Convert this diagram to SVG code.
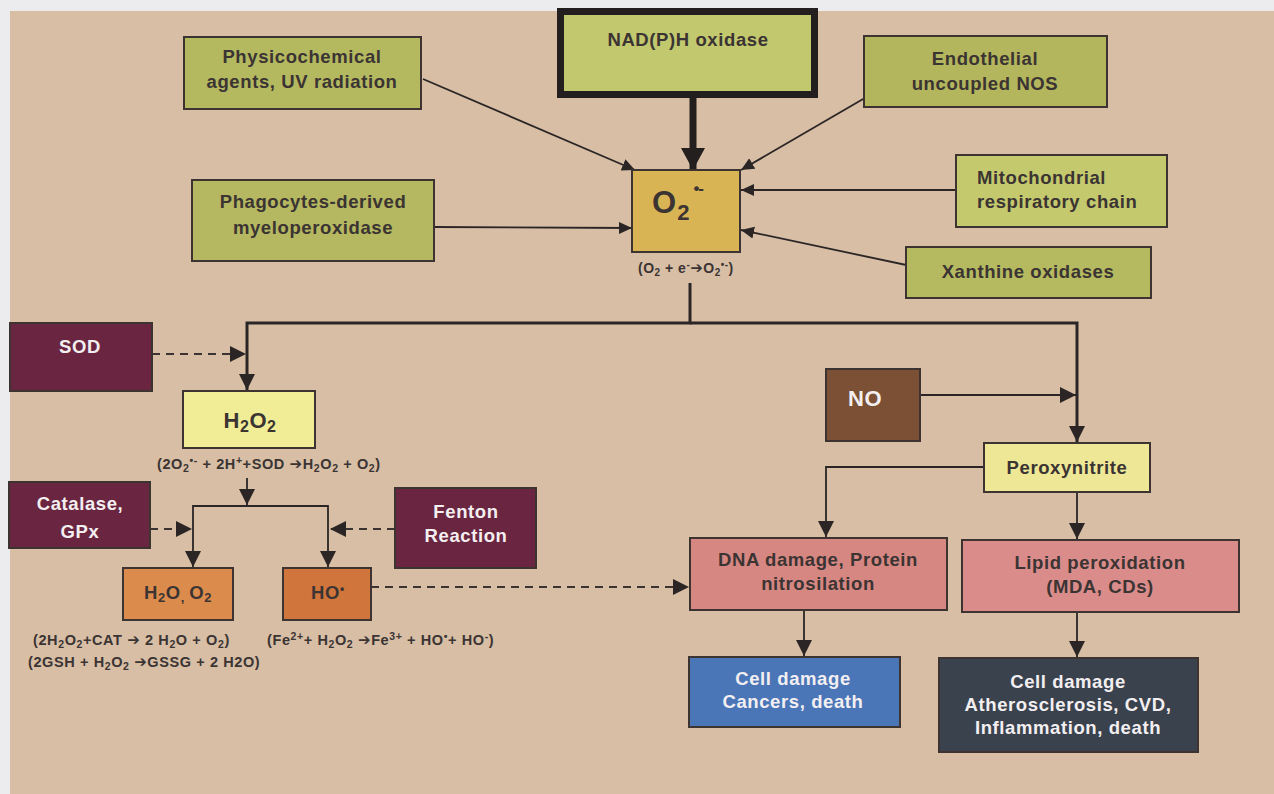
<svg xmlns="http://www.w3.org/2000/svg" width="1274" height="794" viewBox="0 0 1274 794">
<defs>
<style>
.t{font-family:"Liberation Sans",Arial,Helvetica,sans-serif;font-weight:bold;text-anchor:middle;letter-spacing:0.6px}
.d{fill:#3b3433;font-size:18.5px}
.w{fill:#f3eff1;font-size:18.5px}
.f{font-family:"Liberation Sans",Arial,Helvetica,sans-serif;font-weight:bold;fill:#3b3433;font-size:14.5px;letter-spacing:0.6px}
.ar{font-family:"DejaVu Sans",sans-serif;font-size:15px}
.box{stroke:#3d3432;stroke-width:2}
.c{fill:none;stroke:#2b2625;stroke-width:1.8}
.ck{fill:none;stroke:#2b2625;stroke-width:3}
.dash{fill:none;stroke:#3b3433;stroke-width:2;stroke-dasharray:8 6}
</style>
<marker id="a" markerUnits="userSpaceOnUse" markerWidth="14" markerHeight="14" refX="13" refY="7" orient="auto"><path d="M0,1 L13,7 L0,13 z" fill="#2b2625"/></marker>
<marker id="ak" markerUnits="userSpaceOnUse" markerWidth="18" markerHeight="18" refX="16" refY="9" orient="auto"><path d="M0,1 L16,9 L0,17 z" fill="#2b2625"/></marker>
<marker id="an" markerUnits="userSpaceOnUse" markerWidth="24" markerHeight="26" refX="22" refY="13" orient="auto"><path d="M0,1 L22,13 L0,25 z" fill="#231f1f"/></marker>
</defs>
<rect x="0" y="0" width="1274" height="794" fill="#ecebed"/>
<rect x="10" y="11" width="1264" height="783" fill="#d7bea5"/>

<g id="connectors">
<line class="c" x1="423" y1="79" x2="635" y2="170" marker-end="url(#a)"/>
<line x1="693" y1="98" x2="693" y2="170" stroke="#231f1f" stroke-width="7" marker-end="url(#an)"/>
<line class="c" x1="870" y1="95" x2="741" y2="170" marker-end="url(#a)"/>
<line class="c" x1="956" y1="190" x2="741" y2="190" marker-end="url(#a)"/>
<line class="c" x1="911" y1="266" x2="741" y2="230" marker-end="url(#a)"/>
<line class="c" x1="434" y1="227" x2="632" y2="228" marker-end="url(#a)"/>
<path class="ck" d="M690,283 V323 H247 V390" marker-end="url(#ak)"/>
<path class="ck" d="M690,323 H1077 V442" marker-end="url(#ak)"/>
<line class="dash" x1="152" y1="354" x2="246" y2="354" marker-end="url(#ak)"/>
<line class="c" x1="247" y1="478" x2="247" y2="505" marker-end="url(#ak)"/>
<path class="c" d="M247,506 H193 V567" marker-end="url(#ak)"/>
<path class="c" d="M247,506 H328 V567" marker-end="url(#ak)"/>
<line class="dash" x1="150" y1="529" x2="192" y2="529" marker-end="url(#ak)"/>
<line class="dash" x1="395" y1="529" x2="330" y2="529" marker-end="url(#ak)"/>
<line class="dash" x1="371" y1="587" x2="689" y2="587" marker-end="url(#ak)"/>
<line class="c" x1="920" y1="395" x2="1076" y2="395" marker-end="url(#ak)"/>
<path class="c" d="M984,467 H826 V537" marker-end="url(#ak)"/>
<line class="c" x1="1077" y1="492" x2="1077" y2="539" marker-end="url(#ak)"/>
<line class="c" x1="804" y1="610" x2="804" y2="656" marker-end="url(#ak)"/>
<line class="c" x1="1077" y1="612" x2="1077" y2="657" marker-end="url(#ak)"/>
</g>

<g id="physicochemical">
<rect class="box" x="184" y="37" width="237" height="72" fill="#b4b960"/>
<text class="t d" x="302" y="63">Physicochemical</text>
<text class="t d" x="302" y="88">agents, UV radiation</text>
</g>
<g id="nadph">
<rect x="560.5" y="11.5" width="254" height="83" fill="#c1c86e" stroke="#231f1f" stroke-width="7"/>
<text class="t d" x="688" y="46">NAD(P)H oxidase</text>
</g>
<g id="endothelial">
<rect class="box" x="864" y="36" width="243" height="71" fill="#b3b65c"/>
<text class="t d" x="985" y="65">Endothelial</text>
<text class="t d" x="985" y="90">uncoupled NOS</text>
</g>
<g id="mitochondrial">
<rect class="box" x="956" y="155" width="211" height="72" fill="#c4c96e"/>
<text class="t d" x="977" y="184" style="text-anchor:start">Mitochondrial</text>
<text class="t d" x="977" y="208" style="text-anchor:start">respiratory chain</text>
</g>
<g id="xanthine">
<rect class="box" x="906" y="247" width="245" height="51" fill="#b5ba60"/>
<text class="t d" x="1028" y="278">Xanthine oxidases</text>
</g>
<g id="phagocytes">
<rect class="box" x="192" y="180" width="242" height="81" fill="#b5b860"/>
<text class="t d" x="313" y="208">Phagocytes-derived</text>
<text class="t d" x="313" y="234">myeloperoxidase</text>
</g>
<g id="superoxide">
<rect class="box" x="632" y="170" width="108" height="82" fill="#d9b454"/>
<text class="t d" x="652" y="213" style="text-anchor:start;font-size:31px;letter-spacing:1px">O<tspan font-size="22" baseline-shift="-7">2</tspan><tspan font-size="17" baseline-shift="19" letter-spacing="-1" dx="3">•-</tspan></text>
<text class="f" x="638" y="273" style="font-size:14px;letter-spacing:0.5px">(O<tspan font-size="10" baseline-shift="-3">2</tspan> + e<tspan font-size="10" baseline-shift="5">-</tspan><tspan class="ar" font-size="14">➔</tspan>O<tspan font-size="10" baseline-shift="-3">2</tspan><tspan font-size="10" baseline-shift="5">•-</tspan>)</text>
</g>
<g id="sod">
<rect class="box" x="10" y="323" width="142" height="68" fill="#6a2640"/>
<text class="t w" x="80" y="353">SOD</text>
</g>
<g id="h2o2">
<rect class="box" x="183" y="391" width="132" height="57" fill="#f0ed96"/>
<text class="t d" x="250" y="428" style="font-size:22px">H<tspan font-size="16" baseline-shift="-4">2</tspan>O<tspan font-size="16" baseline-shift="-4">2</tspan></text>
<text class="f" x="157" y="469">(2O<tspan font-size="10.5" baseline-shift="-3">2</tspan><tspan font-size="10.5" baseline-shift="5">•-</tspan> + 2H<tspan font-size="10.5" baseline-shift="5">+</tspan>+SOD <tspan class="ar">➔</tspan>H<tspan font-size="10.5" baseline-shift="-3">2</tspan>O<tspan font-size="10.5" baseline-shift="-3">2</tspan> + O<tspan font-size="10.5" baseline-shift="-3">2</tspan>)</text>
</g>
<g id="catalase">
<rect class="box" x="9" y="482" width="141" height="66" fill="#6a2640"/>
<text class="t w" x="80" y="510">Catalase,</text>
<text class="t w" x="80" y="538">GPx</text>
</g>
<g id="fenton">
<rect class="box" x="395" y="488" width="141" height="80" fill="#6a2640"/>
<text class="t w" x="466" y="518">Fenton</text>
<text class="t w" x="466" y="542">Reaction</text>
</g>
<g id="h2o-o2">
<rect class="box" x="123" y="568" width="110" height="52" fill="#db8c4c"/>
<text class="t d" x="178" y="599">H<tspan font-size="13" baseline-shift="-3">2</tspan>O<tspan font-size="13" baseline-shift="-3">, </tspan>O<tspan font-size="13" baseline-shift="-3">2</tspan></text>
<text class="f" x="33" y="645">(2H<tspan font-size="10.5" baseline-shift="-3">2</tspan>O<tspan font-size="10.5" baseline-shift="-3">2</tspan>+CAT <tspan class="ar">➔</tspan> 2 H<tspan font-size="10.5" baseline-shift="-3">2</tspan>O + O<tspan font-size="10.5" baseline-shift="-3">2</tspan>)</text>
<text class="f" x="28" y="667">(2GSH + H<tspan font-size="10.5" baseline-shift="-3">2</tspan>O<tspan font-size="10.5" baseline-shift="-3">2</tspan> <tspan class="ar">➔</tspan>GSSG + 2 H2O)</text>
</g>
<g id="hydroxyl">
<rect class="box" x="283" y="568" width="88" height="52" fill="#d0763c"/>
<text class="t d" x="328" y="599">HO<tspan font-size="12" baseline-shift="6">•</tspan></text>
<text class="f" x="267" y="645">(Fe<tspan font-size="10.5" baseline-shift="5">2+</tspan>+ H<tspan font-size="10.5" baseline-shift="-3">2</tspan>O<tspan font-size="10.5" baseline-shift="-3">2</tspan> <tspan class="ar">➔</tspan>Fe<tspan font-size="10.5" baseline-shift="5">3+</tspan> + HO<tspan font-size="10.5" baseline-shift="5">•</tspan>+ HO<tspan font-size="10.5" baseline-shift="5">-</tspan>)</text>
</g>
<g id="no">
<rect class="box" x="826" y="369" width="94" height="72" fill="#7b5034"/>
<text class="t w" x="865" y="406" style="font-size:22px">NO</text>
</g>
<g id="peroxynitrite">
<rect class="box" x="984" y="443" width="166" height="49" fill="#eee896"/>
<text class="t d" x="1067" y="474">Peroxynitrite</text>
</g>
<g id="dna">
<rect class="box" x="690" y="538" width="257" height="72" fill="#d68782"/>
<text class="t d" x="818" y="566">DNA damage, Protein</text>
<text class="t d" x="818" y="590">nitrosilation</text>
</g>
<g id="lipid">
<rect class="box" x="962" y="540" width="277" height="72" fill="#da8c8a"/>
<text class="t d" x="1100" y="569">Lipid peroxidation</text>
<text class="t d" x="1100" y="593">(MDA, CDs)</text>
</g>
<g id="cancer">
<rect class="box" x="689" y="657" width="211" height="70" fill="#4a76b8"/>
<text class="t w" x="793" y="685">Cell damage</text>
<text class="t w" x="793" y="708">Cancers, death</text>
</g>
<g id="cvd">
<rect class="box" x="939" y="658" width="259" height="94" fill="#3a424e"/>
<text class="t w" x="1068" y="688">Cell damage</text>
<text class="t w" x="1068" y="711">Atherosclerosis, CVD,</text>
<text class="t w" x="1068" y="734">Inflammation, death</text>
</g>
</svg>
